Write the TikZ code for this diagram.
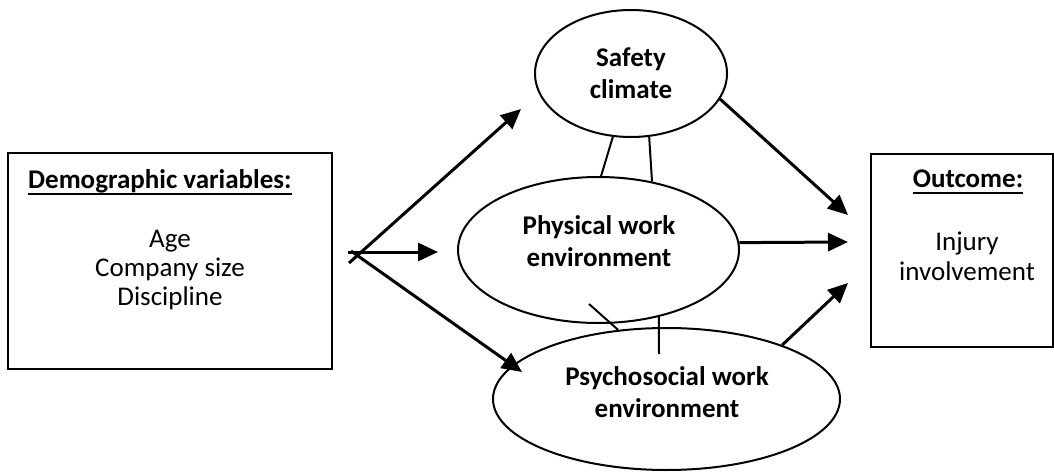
\documentclass[tikz,border=0pt]{standalone}
\usepackage{fontspec}
\setmainfont{Carlito}
\usetikzlibrary{arrows.meta,shapes.geometric}

\begin{document}
\begin{tikzpicture}[x=1pt,y=-1pt,
  every node/.style={inner sep=0pt},
  framebox/.style={draw,line width=2pt,rectangle},
  oval/.style={draw,line width=2pt,ellipse},
  plaintext/.style={align=center,font=\fontsize{27}{29}\selectfont},
  boldtext/.style={align=center,font=\fontsize{27}{32}\selectfont\bfseries},
  headtext/.style={font=\fontsize{27}{29}\selectfont\bfseries},
  underbar/.style={line width=1.8pt},
  flow/.style={line width=3pt,-{Triangle[length=20pt,width=18pt]}},
  link/.style={line width=2pt}]
\useasboundingbox (0,0) rectangle (1054,473);

% boxes
\node[framebox,minimum width=324pt,minimum height=216pt] (demo) at (170,261) {};
\node[framebox,minimum width=182pt,minimum height=193pt] (out) at (962,250.5) {};

% box headings, underlined
\node[headtext,anchor=base west] (demotitle) at (28,189) {Demographic variables:};
\draw[underbar] ([yshift=-5pt]demotitle.base west) -- ([yshift=-5pt]demotitle.base east);
\node[headtext,anchor=base] (outtitle) at (968,188) {Outcome:};
\draw[underbar] ([yshift=-5pt]outtitle.base west) -- ([yshift=-5pt]outtitle.base east);

% box contents
\node[plaintext] (demolist) at (170,270) {Age\\Company size\\Discipline};
\node[plaintext,font=\fontsize{27}{30}\selectfont] (outtext) at (967,256) {Injury\\involvement};

% latent constructs
\node[oval,minimum width=192pt,minimum height=127pt] (sc) at (631,73.5) {};
\node[oval,minimum width=281pt,minimum height=146pt] (pe) at (598.5,250) {};
\node[oval,minimum width=347pt,minimum height=142pt] (pse) at (666.5,399) {};

\node[boldtext] (sctext) at (631,73) {Safety\\climate};
\node[boldtext] (petext) at (599,241) {Physical work\\environment};
\node[boldtext] (psetext) at (667,392) {Psychosocial work\\environment};

% fan of paths from the demographic block
\coordinate (fanup) at (349,263);
\coordinate (fanmid) at (348,252);
\coordinate (fanlow) at (351,251);
\coordinate (tipup) at (521,109);
\coordinate (tipmid) at (438,252);
\coordinate (tiplow) at (522,372);
\draw[flow] (fanup) -- (tipup);
\draw[flow] (fanmid) -- (tipmid);
\draw[flow] (fanlow) -- (tiplow);

% paths into the outcome
\coordinate (inup) at (848,215);
\coordinate (inmid) at (848,242);
\coordinate (inlow) at (848,283);
\draw[flow] (sc.-16) -- (inup);
\draw[flow] (pe.3) -- (inmid);
\draw[flow] (pse.25) -- (inlow);

% correlations between constructs
\coordinate (peinner) at (589,304);
\coordinate (pseinner) at (659,354);
\draw[link] (sc.254) -- (pe.88);
\draw[link] (sc.286) -- (pe.52);
\draw[link] (peinner) -- (pse.125);
\draw[link] (pe.-48) -- (pseinner);
\end{tikzpicture}
\end{document}
